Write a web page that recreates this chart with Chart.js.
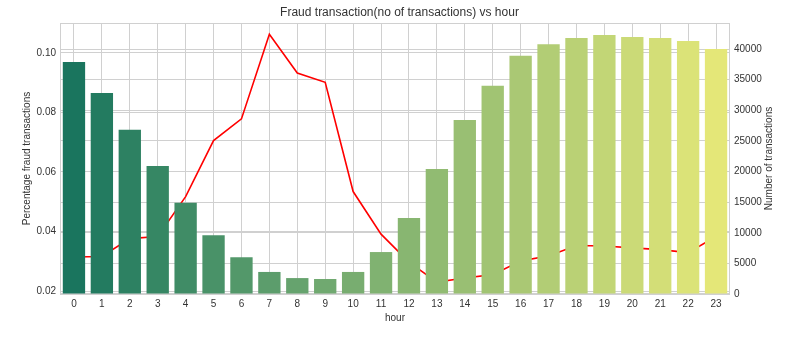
<!DOCTYPE html>
<html>
<head>
<meta charset="utf-8">
<script src="https://cdn.jsdelivr.net/npm/chart.js@4"></script>
<style>
  html, body { margin: 0; padding: 0; background: #fff; }
</style>
</head>
<body>
<canvas id="fraudChart" width="799" height="341"></canvas>
<script>
const hours = ['0','1','2','3','4','5','6','7','8','9','10','11','12','13','14','15','16','17','18','19','20','21','22','23'];
const fraudPct = [0.0314, 0.0316, 0.0376, 0.0383, 0.0517, 0.0705, 0.0778, 0.1062, 0.0932, 0.0901, 0.0534, 0.0391,
                  0.0297, 0.0230, 0.0244, 0.0255, 0.0301, 0.0318, 0.0353, 0.0351, 0.0345, 0.0339, 0.0329, 0.0383];
const txnCount = [37900, 32800, 26800, 20900, 14900, 9600, 6000, 3600, 2600, 2450, 3600, 6850,
                  12400, 20400, 28400, 34000, 38900, 40800, 41800, 42300, 41950, 41800, 41300, 40000];
const leftTicks = [0.02, 0.04, 0.06, 0.08, 0.10];
const rightTicks = [0, 5000, 10000, 15000, 20000, 25000, 30000, 35000, 40000];

const textColor = '#333333';
const gridColor = '#d0d0d0';

// seaborn "summer" palette, desaturated to 0.75
function summerColor(i, n) {
    const t = (i + 1) / (n + 1);
    const c = [t, 0.5 + 0.5 * t, 0.4];
    const mx = Math.max(...c), mn = Math.min(...c);
    const l = (mx + mn) / 2;
    const s = l <= 0.5 ? (mx - mn) / (mx + mn) : (mx - mn) / (2 - mx - mn);
    const s2 = s * 0.75;
    const m2 = l <= 0.5 ? l * (1 + s2) : l + s2 - l * s2;
    const m1 = 2 * l - m2;
    const ch = c.map(v => Math.round(255 * (m1 + (v - mn) / (mx - mn) * (m2 - m1))));
    return `rgb(${ch[0]}, ${ch[1]}, ${ch[2]})`;
}
const barColors = hours.map((h, i) => summerColor(i, hours.length));

Chart.defaults.font.family = "'Liberation Sans', Arial, sans-serif";
Chart.defaults.color = textColor;

const framePlugin = {
    id: 'frame',
    beforeDatasetsDraw(chart) {
        const { ctx, chartArea: a } = chart;
        ctx.save();
        ctx.strokeStyle = gridColor;
        ctx.lineWidth = 1;
        ctx.strokeRect(a.left + 0.5, a.top + 0.5, a.right - a.left - 1, a.bottom - a.top - 1);
        ctx.restore();
    }
};

// right axis title reads bottom-to-top, like matplotlib
const rightTitlePlugin = {
    id: 'rightTitle',
    afterDraw(chart) {
        const { ctx, chartArea: a } = chart;
        ctx.save();
        ctx.translate(769, (a.top + a.bottom) / 2);
        ctx.rotate(-Math.PI / 2);
        ctx.font = "10px 'Liberation Sans', Arial, sans-serif";
        ctx.fillStyle = textColor;
        ctx.textAlign = 'center';
        ctx.textBaseline = 'middle';
        ctx.fillText('Number of transactions', 0, 0);
        ctx.restore();
    }
};

new Chart(document.getElementById('fraudChart').getContext('2d'), {
    type: 'bar',
    data: {
        labels: hours,
        datasets: [{
            type: 'bar',
            label: 'Number of transactions',
            data: txnCount,
            backgroundColor: barColors,
            borderWidth: 0,
            categoryPercentage: 0.8,
            barPercentage: 1.0,
            yAxisID: 'y1',
            order: 1
        }, {
            type: 'line',
            label: 'Percentage fraud transactions',
            data: fraudPct,
            borderColor: '#ff0000',
            borderWidth: 1.6,
            pointRadius: 0,
            fill: false,
            tension: 0,
            yAxisID: 'y',
            order: 2
        }]
    },
    options: {
        responsive: false,
        animation: false,
        devicePixelRatio: 1,
        layout: { padding: 0 },
        plugins: {
            legend: { display: false },
            tooltip: { enabled: false },
            title: {
                display: true,
                text: 'Fraud transaction(no of transactions) vs hour',
                color: textColor,
                font: { size: 12, weight: 'normal' },
                padding: { top: 5, bottom: 3.6 }
            }
        },
        scales: {
            x: {
                offset: true,
                grid: { offset: false, color: gridColor, drawTicks: false },
                border: { display: false },
                ticks: { padding: 4, font: { size: 10 }, maxRotation: 0, autoSkip: false },
                title: { display: true, text: 'hour', font: { size: 10 }, padding: { top: 0, bottom: 17 } },
                afterFit: s => { s.height = 47; }
            },
            y: {
                position: 'left',
                min: 0.019,
                max: 0.110,
                afterBuildTicks: s => { s.ticks = leftTicks.map(v => ({ value: v })); },
                ticks: { padding: 4, font: { size: 10 }, callback: v => Number(v).toFixed(2) },
                grid: { color: gridColor, drawTicks: false },
                border: { display: false },
                title: { display: true, text: 'Percentage fraud transactions', font: { size: 10 }, padding: { top: 21, bottom: 0 } },
                afterFit: s => { s.width = 60; }
            },
            y1: {
                position: 'right',
                min: 0,
                max: 44250,
                afterBuildTicks: s => { s.ticks = rightTicks.map(v => ({ value: v })); },
                ticks: { padding: 4, font: { size: 10 }, callback: v => String(v) },
                grid: { color: gridColor, drawTicks: false },
                border: { display: false },
                afterFit: s => { s.width = 69; }
            }
        }
    },
    plugins: [framePlugin, rightTitlePlugin]
});
</script>
</body>
</html>
